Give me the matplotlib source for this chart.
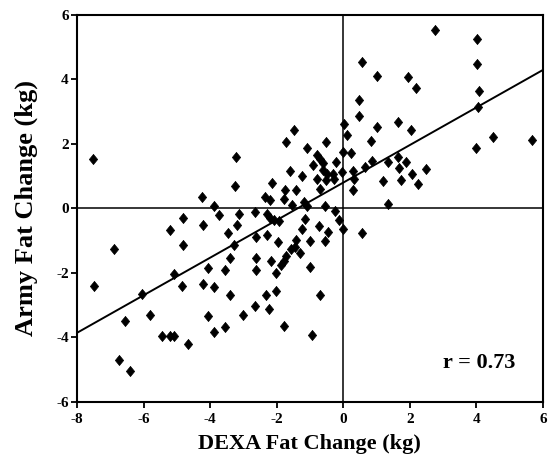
import matplotlib
matplotlib.use("Agg")
import matplotlib.pyplot as plt
import numpy as np

plt.rcParams['font.family'] = ['Liberation Serif', 'DejaVu Serif']
plt.rcParams['font.weight'] = 'bold'

# DEXA vs Army fat change per subject (kg)
dexa = [
    -7.52, -7.50, -6.90, -6.57, -6.73, -6.40, -6.05, -5.82, -5.44, -5.21,
    -5.07, -4.67, -5.22, -4.82, -4.82, -5.07, -4.85, -4.25, -4.22, -3.89,
    -3.74, -3.25, -3.21, -3.46, -3.19, -3.27, -3.13, -2.65, -2.62, -2.28,
    -2.62, -2.62, -3.39, -3.54, -4.05, -4.21, -3.89, -3.39, -4.05, -3.89,
    -3.54, -3.00, -2.64, -2.33, -2.23, -2.17, -2.03, -2.03, -1.77, -1.96,
    -2.30, -2.20, -2.08, -1.94, -1.79, -1.73, -1.87, -2.15, -2.34, -2.21,
    -1.76, -1.78, -1.42, -1.54, -1.19, -1.09, -1.14, -1.24, -0.73, -0.46,
    -0.56, -1.01, -1.42, -1.46, -1.56, -1.30, -0.99, -0.69, -0.95, -0.54,
    -0.24, -0.12, -0.02, 0.57, 1.35, -1.49, -1.72, -1.09, -0.51, 0.01,
    0.11, -0.02, 0.24, 0.46, 0.48, 0.56, 1.01, 0.85, 0.87, 1.21,
    0.66, 0.30, 0.33, 0.30, -0.03, -0.21, -0.32, -0.29, -0.78, -0.69,
    -0.61, -0.90, -0.61, -0.50, -0.80, -0.51, -1.61, -1.24, -0.69, 2.76,
    4.01, 4.01, 4.08, 4.06, 3.98, 4.51, 5.67, 1.03, 1.96, 2.19,
    1.65, 2.04, 1.36, 1.65, 1.89, 1.67, 2.50, 2.07, 1.73, 2.24,
]
army = [
    1.52, -2.39, -1.25, -3.50, -4.71, -5.05, -2.65, -3.29, -3.94, -3.94,
    -3.94, -4.19, -0.67, -0.29, -1.12, -2.03, -2.39, 0.36, -0.52, 0.08,
    -0.19, 0.71, 1.60, -0.76, -0.50, -1.12, -0.17, -0.10, -0.87, -0.81,
    -1.54, -1.92, -1.53, -1.92, -1.86, -2.33, -2.43, -2.69, -3.34, -3.84,
    -3.69, -3.31, -3.01, -2.69, -3.12, -1.63, -2.00, -2.57, -3.65, -1.03,
    -0.18, -0.30, -0.36, -0.39, -1.64, -1.46, -1.74, 0.80, 0.36, 0.26,
    0.57, 0.29, 0.56, 0.10, 0.20, 0.07, -0.32, -0.65, -0.55, -0.72,
    -1.01, -1.01, -0.99, -1.19, -1.27, -1.38, -1.82, -2.69, -3.92, 0.08,
    -0.08, -0.36, -0.63, -0.77, 0.15, 2.42, 2.05, 1.88, 2.06, 2.61,
    2.27, 1.75, 1.71, 2.86, 3.37, 4.54, 2.54, 2.10, 1.47, 0.84,
    1.27, 1.15, 0.92, 0.58, 1.12, 1.44, 1.08, 0.90, 1.65, 1.52,
    1.40, 1.36, 1.20, 1.06, 0.92, 0.89, 1.15, 1.00, 0.59, 5.54,
    5.25, 4.49, 3.64, 3.13, 1.88, 2.22, 2.11, 4.12, 4.09, 3.72,
    2.67, 2.42, 1.43, 1.58, 1.44, 1.25, 1.21, 1.08, 0.88, 0.76,
]

# regression line
slope = 0.582
intercept = 0.80
r_value = 0.73

x_ticks = [-8, -6, -4, -2, 0, 2, 4, 6]
y_ticks = [-6, -4, -2, 0, 2, 4, 6]

fig = plt.figure(figsize=(5.5, 4.57), dpi=100)
ax = fig.add_axes([0.14, 0.1204, 0.847, 0.847])

ax.axhline(0, color='black', lw=1.1, zorder=1)
ax.axvline(0, color='black', lw=1.1, zorder=1)

line_x = np.array([x_ticks[0], x_ticks[-1]])
ax.plot(line_x, slope * line_x + intercept, color='black', lw=1.4, zorder=2)

diamond = [(0, 1), (0.82, 0), (0, -1), (-0.82, 0), (0, 1)]
ax.plot(dexa, army, linestyle='none', marker=diamond, markersize=7.3,
        color='black', markeredgewidth=0.5, zorder=3)

ax.set_xlim(x_ticks[0], x_ticks[-1])
ax.set_ylim(y_ticks[0], y_ticks[-1])
ax.set_xticks(x_ticks)
ax.set_yticks(y_ticks)
ax.set_xticklabels([str(t) for t in x_ticks])
ax.set_yticklabels([str(t) for t in y_ticks])
ax.tick_params(direction='out', length=4, width=1.3, labelsize=11)
ax.tick_params(axis='x', pad=4)
ax.tick_params(axis='y', pad=2)

for s in ax.spines.values():
    s.set_linewidth(1.5)

ax.set_xlabel('DEXA Fat Change (kg)', fontsize=16, fontweight='bold', labelpad=5.5)
ax.set_ylabel('Army Fat Change (kg)', fontsize=19, fontweight='bold', labelpad=13)

ax.text(0.94, 0.10, f'r = {r_value}', transform=ax.transAxes, ha='right',
        va='center', fontsize=16, fontweight='bold')

fig.savefig('out.png', dpi=100)
